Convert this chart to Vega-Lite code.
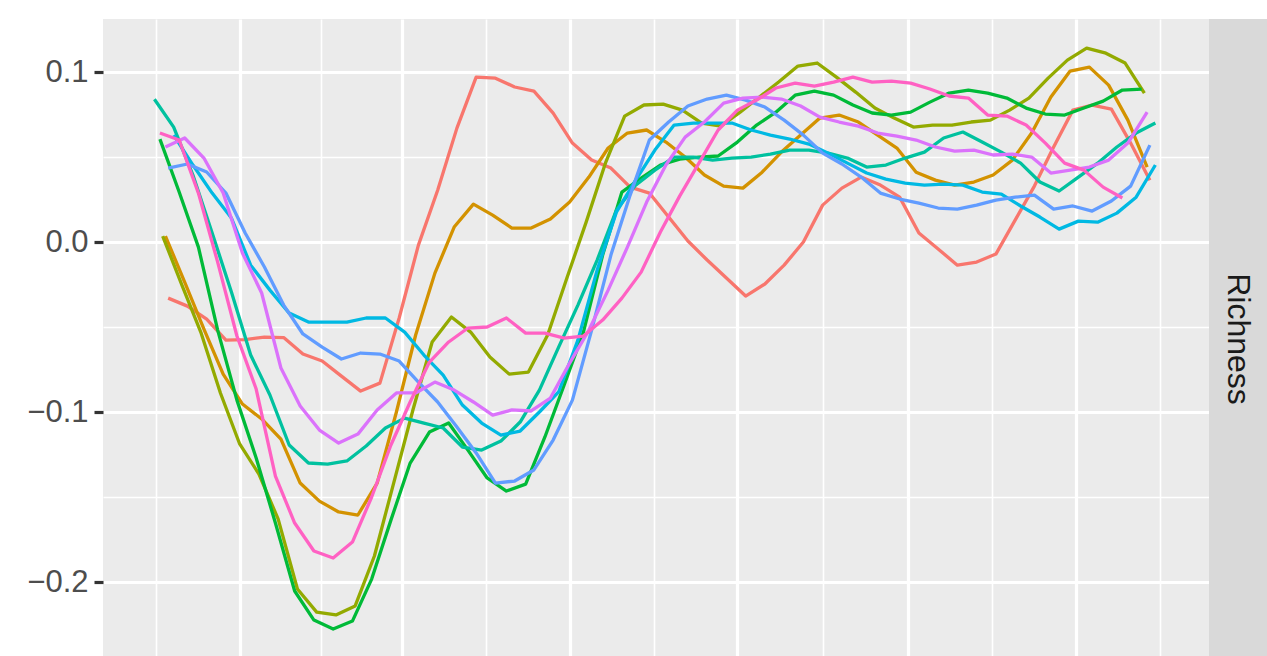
{
  "$schema": "https://vega.github.io/schema/vega-lite/v6.json",
  "padding": {"left": 26, "top": 19, "right": 0, "bottom": 0},
  "background": "white",
  "bounds": "flush",
  "spacing": 0,
  "config": {"font": "Liberation Sans", "view": {"stroke": null}},
  "hconcat": [
    {
      "width": 1106,
      "height": 640,
      "view": {"fill": "#EBEBEB", "stroke": null},
      "data": {"values": [
{"s":"S1","d":-26,"v":-0.0328},{"s":"S1","d":-19,"v":-0.0375},{"s":"S1","d":-12,"v":-0.0451},{"s":"S1","d":-5,"v":-0.0575},{"s":"S1","d":2,"v":-0.0572},{"s":"S1","d":9,"v":-0.0557},{"s":"S1","d":16,"v":-0.0560},{"s":"S1","d":23,"v":-0.0657},{"s":"S1","d":30,"v":-0.0698},{"s":"S1","d":37,"v":-0.0787},{"s":"S1","d":44,"v":-0.0875},{"s":"S1","d":51,"v":-0.0828},{"s":"S1","d":58,"v":-0.0445},{"s":"S1","d":65,"v":-0.0016},{"s":"S1","d":72,"v":0.0307},{"s":"S1","d":79,"v":0.0672},{"s":"S1","d":86,"v":0.0972},{"s":"S1","d":93,"v":0.0966},{"s":"S1","d":100,"v":0.0914},{"s":"S1","d":107,"v":0.0890},{"s":"S1","d":114,"v":0.0760},{"s":"S1","d":121,"v":0.0584},{"s":"S1","d":128,"v":0.0484},{"s":"S1","d":135,"v":0.0437},{"s":"S1","d":142,"v":0.0325},{"s":"S1","d":149,"v":0.0290},{"s":"S1","d":156,"v":0.0149},{"s":"S1","d":163,"v":0.0008},{"s":"S1","d":170,"v":-0.0104},{"s":"S1","d":177,"v":-0.0210},{"s":"S1","d":184,"v":-0.0316},{"s":"S1","d":191,"v":-0.0245},{"s":"S1","d":198,"v":-0.0134},{"s":"S1","d":205,"v":0.0002},{"s":"S1","d":212,"v":0.0219},{"s":"S1","d":219,"v":0.0319},{"s":"S1","d":226,"v":0.0384},{"s":"S1","d":233,"v":0.0337},{"s":"S1","d":240,"v":0.0266},{"s":"S1","d":247,"v":0.0055},{"s":"S1","d":254,"v":-0.0039},{"s":"S1","d":261,"v":-0.0134},{"s":"S1","d":268,"v":-0.0116},{"s":"S1","d":275,"v":-0.0069},{"s":"S1","d":282,"v":0.0131},{"s":"S1","d":289,"v":0.0331},{"s":"S1","d":296,"v":0.0561},{"s":"S1","d":303,"v":0.0778},{"s":"S1","d":310,"v":0.0808},{"s":"S1","d":317,"v":0.0784},{"s":"S1","d":324,"v":0.0584},{"s":"S1","d":331,"v":0.0366},
{"s":"S2","d":-27,"v":0.0037},{"s":"S2","d":-20,"v":-0.0234},{"s":"S2","d":-13,"v":-0.0510},{"s":"S2","d":-6,"v":-0.0775},{"s":"S2","d":1,"v":-0.0951},{"s":"S2","d":8,"v":-0.1039},{"s":"S2","d":15,"v":-0.1157},{"s":"S2","d":22,"v":-0.1416},{"s":"S2","d":29,"v":-0.1522},{"s":"S2","d":36,"v":-0.1586},{"s":"S2","d":43,"v":-0.1604},{"s":"S2","d":50,"v":-0.1416},{"s":"S2","d":57,"v":-0.0998},{"s":"S2","d":64,"v":-0.0545},{"s":"S2","d":71,"v":-0.0181},{"s":"S2","d":78,"v":0.0090},{"s":"S2","d":85,"v":0.0225},{"s":"S2","d":92,"v":0.0160},{"s":"S2","d":99,"v":0.0084},{"s":"S2","d":106,"v":0.0084},{"s":"S2","d":113,"v":0.0137},{"s":"S2","d":120,"v":0.0237},{"s":"S2","d":127,"v":0.0384},{"s":"S2","d":134,"v":0.0555},{"s":"S2","d":141,"v":0.0643},{"s":"S2","d":148,"v":0.0661},{"s":"S2","d":155,"v":0.0590},{"s":"S2","d":162,"v":0.0502},{"s":"S2","d":169,"v":0.0396},{"s":"S2","d":176,"v":0.0331},{"s":"S2","d":183,"v":0.0319},{"s":"S2","d":190,"v":0.0413},{"s":"S2","d":197,"v":0.0531},{"s":"S2","d":204,"v":0.0631},{"s":"S2","d":211,"v":0.0731},{"s":"S2","d":218,"v":0.0749},{"s":"S2","d":225,"v":0.0708},{"s":"S2","d":232,"v":0.0631},{"s":"S2","d":239,"v":0.0555},{"s":"S2","d":246,"v":0.0413},{"s":"S2","d":253,"v":0.0366},{"s":"S2","d":260,"v":0.0337},{"s":"S2","d":267,"v":0.0355},{"s":"S2","d":274,"v":0.0396},{"s":"S2","d":281,"v":0.0484},{"s":"S2","d":288,"v":0.0643},{"s":"S2","d":295,"v":0.0855},{"s":"S2","d":302,"v":0.1008},{"s":"S2","d":309,"v":0.1031},{"s":"S2","d":316,"v":0.0925},{"s":"S2","d":323,"v":0.0719},{"s":"S2","d":330,"v":0.0443},
{"s":"S3","d":-28,"v":0.0037},{"s":"S3","d":-21,"v":-0.0251},{"s":"S3","d":-14,"v":-0.0534},{"s":"S3","d":-7,"v":-0.0886},{"s":"S3","d":0,"v":-0.1186},{"s":"S3","d":7,"v":-0.1363},{"s":"S3","d":14,"v":-0.1628},{"s":"S3","d":21,"v":-0.2039},{"s":"S3","d":28,"v":-0.2175},{"s":"S3","d":35,"v":-0.2192},{"s":"S3","d":42,"v":-0.2139},{"s":"S3","d":49,"v":-0.1845},{"s":"S3","d":56,"v":-0.1416},{"s":"S3","d":63,"v":-0.0986},{"s":"S3","d":70,"v":-0.0586},{"s":"S3","d":77,"v":-0.0439},{"s":"S3","d":84,"v":-0.0528},{"s":"S3","d":91,"v":-0.0675},{"s":"S3","d":98,"v":-0.0775},{"s":"S3","d":105,"v":-0.0763},{"s":"S3","d":112,"v":-0.0545},{"s":"S3","d":119,"v":-0.0210},{"s":"S3","d":126,"v":0.0119},{"s":"S3","d":133,"v":0.0466},{"s":"S3","d":140,"v":0.0743},{"s":"S3","d":147,"v":0.0808},{"s":"S3","d":154,"v":0.0813},{"s":"S3","d":161,"v":0.0778},{"s":"S3","d":168,"v":0.0702},{"s":"S3","d":175,"v":0.0684},{"s":"S3","d":182,"v":0.0766},{"s":"S3","d":189,"v":0.0855},{"s":"S3","d":196,"v":0.0943},{"s":"S3","d":203,"v":0.1037},{"s":"S3","d":210,"v":0.1055},{"s":"S3","d":217,"v":0.0972},{"s":"S3","d":224,"v":0.0884},{"s":"S3","d":231,"v":0.0790},{"s":"S3","d":238,"v":0.0731},{"s":"S3","d":245,"v":0.0678},{"s":"S3","d":252,"v":0.0690},{"s":"S3","d":259,"v":0.0690},{"s":"S3","d":266,"v":0.0708},{"s":"S3","d":273,"v":0.0719},{"s":"S3","d":280,"v":0.0778},{"s":"S3","d":287,"v":0.0849},{"s":"S3","d":294,"v":0.0966},{"s":"S3","d":301,"v":0.1072},{"s":"S3","d":308,"v":0.1143},{"s":"S3","d":315,"v":0.1113},{"s":"S3","d":322,"v":0.1055},{"s":"S3","d":329,"v":0.0878},
{"s":"S4","d":-29,"v":0.0607},{"s":"S4","d":-22,"v":0.0296},{"s":"S4","d":-15,"v":-0.0028},{"s":"S4","d":-8,"v":-0.0516},{"s":"S4","d":-1,"v":-0.0928},{"s":"S4","d":6,"v":-0.1269},{"s":"S4","d":13,"v":-0.1651},{"s":"S4","d":20,"v":-0.2051},{"s":"S4","d":27,"v":-0.2222},{"s":"S4","d":34,"v":-0.2275},{"s":"S4","d":41,"v":-0.2228},{"s":"S4","d":48,"v":-0.1981},{"s":"S4","d":55,"v":-0.1634},{"s":"S4","d":62,"v":-0.1298},{"s":"S4","d":69,"v":-0.1116},{"s":"S4","d":76,"v":-0.1063},{"s":"S4","d":83,"v":-0.1222},{"s":"S4","d":90,"v":-0.1386},{"s":"S4","d":97,"v":-0.1463},{"s":"S4","d":104,"v":-0.1422},{"s":"S4","d":111,"v":-0.1145},{"s":"S4","d":118,"v":-0.0839},{"s":"S4","d":125,"v":-0.0528},{"s":"S4","d":132,"v":-0.0075},{"s":"S4","d":139,"v":0.0296},{"s":"S4","d":146,"v":0.0378},{"s":"S4","d":153,"v":0.0455},{"s":"S4","d":160,"v":0.0490},{"s":"S4","d":167,"v":0.0502},{"s":"S4","d":174,"v":0.0508},{"s":"S4","d":181,"v":0.0590},{"s":"S4","d":188,"v":0.0690},{"s":"S4","d":195,"v":0.0766},{"s":"S4","d":202,"v":0.0866},{"s":"S4","d":209,"v":0.0890},{"s":"S4","d":216,"v":0.0866},{"s":"S4","d":223,"v":0.0808},{"s":"S4","d":230,"v":0.0761},{"s":"S4","d":237,"v":0.0749},{"s":"S4","d":244,"v":0.0766},{"s":"S4","d":251,"v":0.0825},{"s":"S4","d":258,"v":0.0878},{"s":"S4","d":265,"v":0.0896},{"s":"S4","d":272,"v":0.0878},{"s":"S4","d":279,"v":0.0849},{"s":"S4","d":286,"v":0.0790},{"s":"S4","d":293,"v":0.0755},{"s":"S4","d":300,"v":0.0749},{"s":"S4","d":307,"v":0.0790},{"s":"S4","d":314,"v":0.0831},{"s":"S4","d":321,"v":0.0896},{"s":"S4","d":328,"v":0.0902},
{"s":"S5","d":-31,"v":0.0842},{"s":"S5","d":-24,"v":0.0678},{"s":"S5","d":-17,"v":0.0396},{"s":"S5","d":-10,"v":0.0055},{"s":"S5","d":-3,"v":-0.0292},{"s":"S5","d":4,"v":-0.0663},{"s":"S5","d":11,"v":-0.0898},{"s":"S5","d":18,"v":-0.1192},{"s":"S5","d":25,"v":-0.1298},{"s":"S5","d":32,"v":-0.1304},{"s":"S5","d":39,"v":-0.1286},{"s":"S5","d":46,"v":-0.1198},{"s":"S5","d":53,"v":-0.1092},{"s":"S5","d":60,"v":-0.1034},{"s":"S5","d":67,"v":-0.1063},{"s":"S5","d":74,"v":-0.1092},{"s":"S5","d":81,"v":-0.1204},{"s":"S5","d":88,"v":-0.1222},{"s":"S5","d":95,"v":-0.1169},{"s":"S5","d":102,"v":-0.1057},{"s":"S5","d":109,"v":-0.0869},{"s":"S5","d":116,"v":-0.0616},{"s":"S5","d":123,"v":-0.0369},{"s":"S5","d":130,"v":-0.0104},{"s":"S5","d":137,"v":0.0190},{"s":"S5","d":144,"v":0.0337},{"s":"S5","d":151,"v":0.0425},{"s":"S5","d":158,"v":0.0502},{"s":"S5","d":165,"v":0.0502},{"s":"S5","d":172,"v":0.0484},{"s":"S5","d":179,"v":0.0496},{"s":"S5","d":186,"v":0.0502},{"s":"S5","d":193,"v":0.0519},{"s":"S5","d":200,"v":0.0543},{"s":"S5","d":207,"v":0.0543},{"s":"S5","d":214,"v":0.0525},{"s":"S5","d":221,"v":0.0496},{"s":"S5","d":228,"v":0.0443},{"s":"S5","d":235,"v":0.0455},{"s":"S5","d":242,"v":0.0496},{"s":"S5","d":249,"v":0.0531},{"s":"S5","d":256,"v":0.0614},{"s":"S5","d":263,"v":0.0649},{"s":"S5","d":270,"v":0.0590},{"s":"S5","d":277,"v":0.0531},{"s":"S5","d":284,"v":0.0466},{"s":"S5","d":291,"v":0.0355},{"s":"S5","d":298,"v":0.0302},{"s":"S5","d":305,"v":0.0384},{"s":"S5","d":312,"v":0.0466},{"s":"S5","d":319,"v":0.0561},{"s":"S5","d":326,"v":0.0643},{"s":"S5","d":333,"v":0.0702},
{"s":"S6","d":-24,"v":0.0631},{"s":"S6","d":-17,"v":0.0455},{"s":"S6","d":-10,"v":0.0290},{"s":"S6","d":-3,"v":0.0143},{"s":"S6","d":4,"v":-0.0134},{"s":"S6","d":11,"v":-0.0281},{"s":"S6","d":18,"v":-0.0416},{"s":"S6","d":25,"v":-0.0469},{"s":"S6","d":32,"v":-0.0469},{"s":"S6","d":39,"v":-0.0469},{"s":"S6","d":46,"v":-0.0445},{"s":"S6","d":53,"v":-0.0445},{"s":"S6","d":60,"v":-0.0528},{"s":"S6","d":67,"v":-0.0663},{"s":"S6","d":74,"v":-0.0781},{"s":"S6","d":81,"v":-0.0957},{"s":"S6","d":88,"v":-0.1063},{"s":"S6","d":95,"v":-0.1134},{"s":"S6","d":102,"v":-0.1110},{"s":"S6","d":109,"v":-0.0998},{"s":"S6","d":116,"v":-0.0880},{"s":"S6","d":123,"v":-0.0575},{"s":"S6","d":130,"v":-0.0163},{"s":"S6","d":137,"v":0.0178},{"s":"S6","d":144,"v":0.0366},{"s":"S6","d":151,"v":0.0543},{"s":"S6","d":158,"v":0.0690},{"s":"S6","d":165,"v":0.0702},{"s":"S6","d":172,"v":0.0702},{"s":"S6","d":179,"v":0.0702},{"s":"S6","d":186,"v":0.0661},{"s":"S6","d":193,"v":0.0631},{"s":"S6","d":200,"v":0.0608},{"s":"S6","d":207,"v":0.0578},{"s":"S6","d":214,"v":0.0525},{"s":"S6","d":221,"v":0.0466},{"s":"S6","d":228,"v":0.0408},{"s":"S6","d":235,"v":0.0372},{"s":"S6","d":242,"v":0.0349},{"s":"S6","d":249,"v":0.0337},{"s":"S6","d":256,"v":0.0343},{"s":"S6","d":263,"v":0.0337},{"s":"S6","d":270,"v":0.0296},{"s":"S6","d":277,"v":0.0284},{"s":"S6","d":284,"v":0.0214},{"s":"S6","d":291,"v":0.0149},{"s":"S6","d":298,"v":0.0078},{"s":"S6","d":305,"v":0.0125},{"s":"S6","d":312,"v":0.0119},{"s":"S6","d":319,"v":0.0172},{"s":"S6","d":326,"v":0.0266},{"s":"S6","d":333,"v":0.0455},
{"s":"S7","d":-26,"v":0.0437},{"s":"S7","d":-19,"v":0.0461},{"s":"S7","d":-12,"v":0.0414},{"s":"S7","d":-5,"v":0.0290},{"s":"S7","d":2,"v":0.0055},{"s":"S7","d":9,"v":-0.0145},{"s":"S7","d":16,"v":-0.0369},{"s":"S7","d":23,"v":-0.0539},{"s":"S7","d":30,"v":-0.0616},{"s":"S7","d":37,"v":-0.0686},{"s":"S7","d":44,"v":-0.0651},{"s":"S7","d":51,"v":-0.0657},{"s":"S7","d":58,"v":-0.0698},{"s":"S7","d":65,"v":-0.0822},{"s":"S7","d":72,"v":-0.0939},{"s":"S7","d":79,"v":-0.1086},{"s":"S7","d":86,"v":-0.1239},{"s":"S7","d":93,"v":-0.1416},{"s":"S7","d":100,"v":-0.1404},{"s":"S7","d":107,"v":-0.1339},{"s":"S7","d":114,"v":-0.1163},{"s":"S7","d":121,"v":-0.0928},{"s":"S7","d":128,"v":-0.0516},{"s":"S7","d":135,"v":-0.0075},{"s":"S7","d":142,"v":0.0278},{"s":"S7","d":149,"v":0.0602},{"s":"S7","d":156,"v":0.0708},{"s":"S7","d":163,"v":0.0802},{"s":"S7","d":170,"v":0.0843},{"s":"S7","d":177,"v":0.0866},{"s":"S7","d":184,"v":0.0837},{"s":"S7","d":191,"v":0.0796},{"s":"S7","d":198,"v":0.0719},{"s":"S7","d":205,"v":0.0631},{"s":"S7","d":212,"v":0.0525},{"s":"S7","d":219,"v":0.0461},{"s":"S7","d":226,"v":0.0384},{"s":"S7","d":233,"v":0.0290},{"s":"S7","d":240,"v":0.0255},{"s":"S7","d":247,"v":0.0231},{"s":"S7","d":254,"v":0.0202},{"s":"S7","d":261,"v":0.0196},{"s":"S7","d":268,"v":0.0219},{"s":"S7","d":275,"v":0.0249},{"s":"S7","d":282,"v":0.0266},{"s":"S7","d":289,"v":0.0278},{"s":"S7","d":296,"v":0.0196},{"s":"S7","d":303,"v":0.0214},{"s":"S7","d":310,"v":0.0184},{"s":"S7","d":317,"v":0.0243},{"s":"S7","d":324,"v":0.0331},{"s":"S7","d":331,"v":0.0572},
{"s":"S8","d":-27,"v":0.0561},{"s":"S8","d":-20,"v":0.0614},{"s":"S8","d":-13,"v":0.0496},{"s":"S8","d":-6,"v":0.0290},{"s":"S8","d":1,"v":-0.0063},{"s":"S8","d":8,"v":-0.0298},{"s":"S8","d":15,"v":-0.0739},{"s":"S8","d":22,"v":-0.0963},{"s":"S8","d":29,"v":-0.1104},{"s":"S8","d":36,"v":-0.1181},{"s":"S8","d":43,"v":-0.1128},{"s":"S8","d":50,"v":-0.0986},{"s":"S8","d":57,"v":-0.0886},{"s":"S8","d":64,"v":-0.0886},{"s":"S8","d":71,"v":-0.0822},{"s":"S8","d":78,"v":-0.0869},{"s":"S8","d":85,"v":-0.0939},{"s":"S8","d":92,"v":-0.1016},{"s":"S8","d":99,"v":-0.0986},{"s":"S8","d":106,"v":-0.0992},{"s":"S8","d":113,"v":-0.0916},{"s":"S8","d":120,"v":-0.0710},{"s":"S8","d":127,"v":-0.0516},{"s":"S8","d":134,"v":-0.0281},{"s":"S8","d":141,"v":-0.0028},{"s":"S8","d":148,"v":0.0237},{"s":"S8","d":155,"v":0.0455},{"s":"S8","d":162,"v":0.0619},{"s":"S8","d":169,"v":0.0708},{"s":"S8","d":176,"v":0.0819},{"s":"S8","d":183,"v":0.0849},{"s":"S8","d":190,"v":0.0855},{"s":"S8","d":197,"v":0.0843},{"s":"S8","d":204,"v":0.0802},{"s":"S8","d":211,"v":0.0737},{"s":"S8","d":218,"v":0.0708},{"s":"S8","d":225,"v":0.0684},{"s":"S8","d":232,"v":0.0643},{"s":"S8","d":239,"v":0.0625},{"s":"S8","d":246,"v":0.0602},{"s":"S8","d":253,"v":0.0561},{"s":"S8","d":260,"v":0.0537},{"s":"S8","d":267,"v":0.0543},{"s":"S8","d":274,"v":0.0514},{"s":"S8","d":281,"v":0.0519},{"s":"S8","d":288,"v":0.0502},{"s":"S8","d":295,"v":0.0408},{"s":"S8","d":302,"v":0.0425},{"s":"S8","d":309,"v":0.0443},{"s":"S8","d":316,"v":0.0484},{"s":"S8","d":323,"v":0.0584},{"s":"S8","d":330,"v":0.0766},
{"s":"S9","d":-29,"v":0.0643},{"s":"S9","d":-22,"v":0.0602},{"s":"S9","d":-15,"v":0.0290},{"s":"S9","d":-8,"v":-0.0116},{"s":"S9","d":-1,"v":-0.0551},{"s":"S9","d":6,"v":-0.0863},{"s":"S9","d":13,"v":-0.1375},{"s":"S9","d":20,"v":-0.1651},{"s":"S9","d":27,"v":-0.1816},{"s":"S9","d":34,"v":-0.1857},{"s":"S9","d":41,"v":-0.1763},{"s":"S9","d":48,"v":-0.1498},{"s":"S9","d":55,"v":-0.1192},{"s":"S9","d":62,"v":-0.0939},{"s":"S9","d":69,"v":-0.0704},{"s":"S9","d":76,"v":-0.0586},{"s":"S9","d":83,"v":-0.0504},{"s":"S9","d":90,"v":-0.0498},{"s":"S9","d":97,"v":-0.0445},{"s":"S9","d":104,"v":-0.0534},{"s":"S9","d":111,"v":-0.0534},{"s":"S9","d":118,"v":-0.0563},{"s":"S9","d":125,"v":-0.0551},{"s":"S9","d":132,"v":-0.0457},{"s":"S9","d":139,"v":-0.0328},{"s":"S9","d":146,"v":-0.0175},{"s":"S9","d":153,"v":0.0061},{"s":"S9","d":160,"v":0.0272},{"s":"S9","d":167,"v":0.0466},{"s":"S9","d":174,"v":0.0661},{"s":"S9","d":181,"v":0.0778},{"s":"S9","d":188,"v":0.0837},{"s":"S9","d":195,"v":0.0908},{"s":"S9","d":202,"v":0.0937},{"s":"S9","d":209,"v":0.0919},{"s":"S9","d":216,"v":0.0943},{"s":"S9","d":223,"v":0.0972},{"s":"S9","d":230,"v":0.0943},{"s":"S9","d":237,"v":0.0949},{"s":"S9","d":244,"v":0.0937},{"s":"S9","d":251,"v":0.0902},{"s":"S9","d":258,"v":0.0861},{"s":"S9","d":265,"v":0.0849},{"s":"S9","d":272,"v":0.0749},{"s":"S9","d":279,"v":0.0743},{"s":"S9","d":286,"v":0.0690},{"s":"S9","d":293,"v":0.0584},{"s":"S9","d":300,"v":0.0466},{"s":"S9","d":307,"v":0.0425},{"s":"S9","d":314,"v":0.0325},{"s":"S9","d":321,"v":0.0261}
      ]},
      "mark": {"type": "line", "strokeWidth": 3.3, "strokeJoin": "round"},
      "encoding": {
        "x": {"field": "d", "type": "quantitative",
          "scale": {"domain": [-49.7, 352.5], "nice": false, "zero": false},
          "axis": {"title": null, "labels": false, "ticks": false, "domain": false,
            "values": [-30.5, 0, 29.5, 59, 89.5, 120, 150.5, 181, 212, 243, 273.5, 304, 334.5],
            "gridColor": "white",
            "gridWidth": {"condition": {"test": "indexof([0,59,120,181,243,304], datum.value) >= 0", "value": 3.2}, "value": 1.6}}},
        "y": {"field": "v", "type": "quantitative",
          "scale": {"domain": [-0.2451, 0.1314], "nice": false, "zero": false},
          "axis": {"title": null, "domain": false,
            "values": [-0.2, -0.15, -0.1, -0.05, 0, 0.05, 0.1],
            "labelExpr": "abs(datum.value*10-round(datum.value*10)) > 0.01 ? '' : (datum.value < -0.001 ? '\u2212' + format(-datum.value, '.1f') : format(datum.value, '.1f'))",
            "labelFont": "Liberation Sans", "labelFontSize": 31, "labelColor": "#4D4D4D", "labelPadding": 6,
            "tickColor": "#333333", "tickSize": 9, "tickWidth": 3.2,
            "tickOpacity": {"condition": {"test": "abs(datum.value*10-round(datum.value*10)) > 0.01", "value": 0}, "value": 1},
            "gridColor": "white",
            "gridWidth": {"condition": {"test": "abs(datum.value*10-round(datum.value*10)) > 0.01", "value": 1.6}, "value": 3.2}}},
        "color": {"field": "s", "type": "nominal", "legend": null,
          "scale": {"domain": ["S1","S2","S3","S4","S5","S6","S7","S8","S9"],
            "range": ["#F8766D","#D39200","#93AA00","#00BA38","#00C19F","#00B9E3","#619CFF","#DB72FB","#FF61C3"]}}
      }
    },
    {
      "width": 58,
      "height": 640,
      "view": {"fill": "#D9D9D9", "stroke": null},
      "data": {"values": [{"panel": "Richness"}]},
      "mark": {"type": "text", "angle": 90, "align": "center", "baseline": "middle", "font": "Liberation Sans", "fontSize": 32, "color": "#1A1A1A"},
      "encoding": {"text": {"field": "panel"}}
    }
  ]
}
